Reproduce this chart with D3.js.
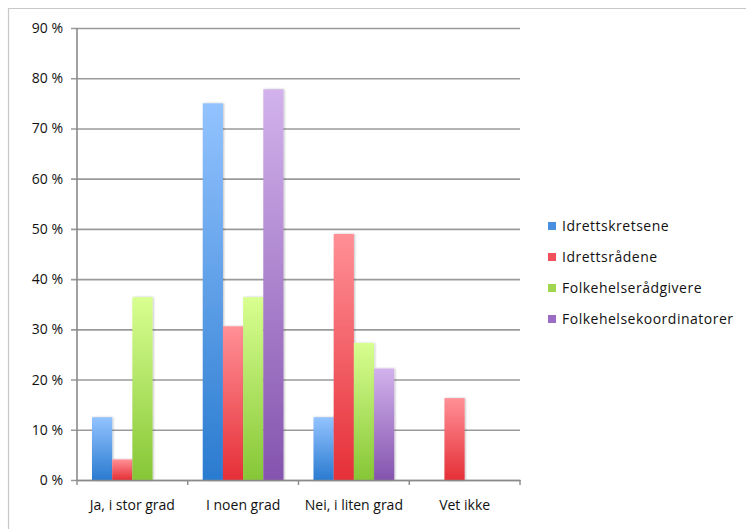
<!DOCTYPE html>
<html>
<head>
<meta charset="utf-8">
<script src="https://cdn.jsdelivr.net/npm/d3@7"></script>
<style>
  html, body { margin: 0; padding: 0; background: #fff; }
  svg { display: block; }
  text { font-family: "Open Sans", "DejaVu Sans", sans-serif; fill: #111; }
</style>
</head>
<body>
<svg id="chart" width="746" height="529"></svg>
<script>
// Survey answers per respondent group (share of respondents, %)
const categories = ["Ja, i stor grad", "I noen grad", "Nei, i liten grad", "Vet ikke"];
const seriesNames = ["Idrettskretsene", "Idrettsrådene", "Folkehelserådgivere", "Folkehelsekoordinatorer"];
const idrettskretsene = [12.5, 75.0, 12.5, 0];
const idrettsradene = [4.1, 30.6, 49.0, 16.3];
const folkehelseradgivere = [36.4, 36.4, 27.3, 0];
const folkehelsekoordinatorer = [0, 77.8, 22.2, 0];
const yTicks = [0, 10, 20, 30, 40, 50, 60, 70, 80, 90];

const seriesValues = [idrettskretsene, idrettsradene, folkehelseradgivere, folkehelsekoordinatorer];
// light top / dark bottom of each bar's gradient
const palette = [
  { top: "#93c3ff", bottom: "#2a7bd0", key: "#4a8fe0" },
  { top: "#ff9096", bottom: "#e52f37", key: "#f0505a" },
  { top: "#d8ff90", bottom: "#86c636", key: "#9fd84e" },
  { top: "#d2b2ec", bottom: "#8454ae", key: "#9a6cc4" }
];

const svg = d3.select("#chart");

// outer frame (top and left edges)
svg.append("path")
  .attr("d", "M8.5,529 L8.5,8.5 L746,8.5")
  .attr("fill", "none").attr("stroke", "#c8c8c8").attr("stroke-width", 1.2);

const plot = { left: 77, right: 520, top: 28, bottom: 480 };

const x0 = d3.scaleBand().domain(categories).range([plot.left, plot.right]).paddingInner(0).paddingOuter(0);
const x1 = d3.scaleBand().domain(seriesNames).range([15, x0.bandwidth() - 15]).padding(0);
const y = d3.scaleLinear().domain([0, 90]).range([plot.bottom, plot.top]);

// gradients
const defs = svg.append("defs");
palette.forEach((p, i) => {
  const g = defs.append("linearGradient").attr("id", "grad" + i)
    .attr("x1", 0).attr("y1", 0).attr("x2", 0).attr("y2", 1);
  g.append("stop").attr("offset", "0%").attr("stop-color", p.top);
  g.append("stop").attr("offset", "100%").attr("stop-color", p.bottom);
});
const shadow = defs.append("filter").attr("id", "shadow").attr("x", "-20%").attr("y", "-5%").attr("width", "140%").attr("height", "110%");
shadow.append("feGaussianBlur").attr("in", "SourceAlpha").attr("stdDeviation", 0.8).attr("result", "b");
shadow.append("feOffset").attr("in", "b").attr("dx", 0.5).attr("dy", 0).attr("result", "o");
shadow.append("feComponentTransfer").attr("in", "o").attr("result", "s")
  .append("feFuncA").attr("type", "linear").attr("slope", 0.25);
const merge = shadow.append("feMerge");
merge.append("feMergeNode").attr("in", "s");
merge.append("feMergeNode").attr("in", "SourceGraphic");

// gridlines
const yAxis = d3.axisLeft(y).tickValues(yTicks).tickSize(-(plot.right - plot.left))
  .tickPadding(14).tickFormat(d => d + " %");
const gy = svg.append("g").attr("transform", `translate(${plot.left},0)`).call(yAxis);
gy.select(".domain").remove();
gy.selectAll(".tick line").attr("stroke", "#9a9a9a").attr("stroke-width", 1.6)
  .attr("x1", -6);
gy.selectAll(".tick text").attr("font-size", 14).attr("fill", "#111");

// bars
const groups = svg.append("g").selectAll("g").data(categories).join("g")
  .attr("transform", d => `translate(${x0(d)},0)`);
groups.selectAll("rect")
  .data((c, ci) => seriesNames.map((s, si) => ({ s, si, v: seriesValues[si][ci] })).filter(d => d.v > 0))
  .join("rect")
  .attr("x", d => x1(d.s))
  .attr("y", d => y(d.v))
  .attr("width", x1.bandwidth())
  .attr("height", d => y(0) - y(d.v))
  .attr("fill", d => `url(#grad${d.si})`)
  .attr("filter", "url(#shadow)");

// vertical axis line
svg.append("line").attr("x1", plot.left).attr("x2", plot.left)
  .attr("y1", plot.top).attr("y2", plot.bottom)
  .attr("stroke", "#8a8a8a").attr("stroke-width", 1.6);

// x axis
const xAxis = d3.axisBottom(x0).tickSize(0).tickPadding(20);
const gx = svg.append("g").attr("transform", `translate(0,${plot.bottom})`).call(xAxis);
gx.select(".domain").attr("stroke", "#8a8a8a").attr("stroke-width", 1.6);
gx.selectAll(".tick text").attr("font-size", 14).attr("fill", "#111");
// category separators
svg.append("g").selectAll("line")
  .data(categories.map(c => x0(c)).concat([plot.right]))
  .join("line")
  .attr("x1", d => d).attr("x2", d => d)
  .attr("y1", plot.bottom).attr("y2", plot.bottom + 5)
  .attr("stroke", "#8a8a8a").attr("stroke-width", 1.4);

// legend
const legend = svg.append("g").attr("transform", "translate(548,226)");
const li = legend.selectAll("g").data(seriesNames).join("g")
  .attr("transform", (d, i) => `translate(0,${i * 31})`);
li.append("rect").attr("x", 0).attr("y", -4).attr("width", 8).attr("height", 8)
  .attr("fill", (d, i) => palette[i].key);
li.append("text").attr("x", 14).attr("y", 0).attr("dy", "0.35em")
  .attr("font-size", 14).attr("letter-spacing", 0.5).text(d => d);
</script>
</body>
</html>
